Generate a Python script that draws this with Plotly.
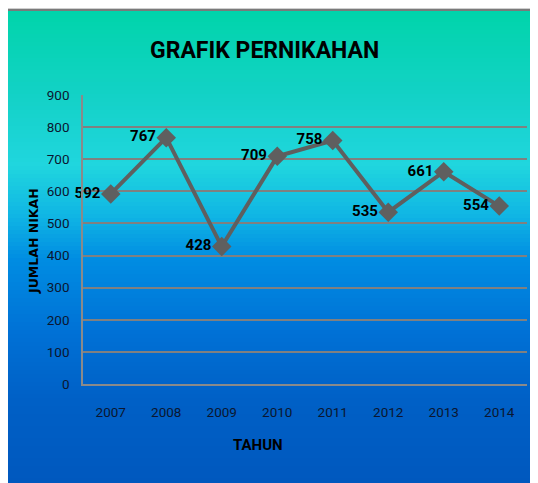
import plotly.graph_objects as go

years = ["2007", "2008", "2009", "2010", "2011", "2012", "2013", "2014"]
jumlah_nikah = [592, 767, 428, 709, 758, 535, 661, 554]
y_ticks = [0, 100, 200, 300, 400, 500, 600, 700, 800, 900]

OFF = 8  # page body margin
W, H = 538 - OFF, 483 - OFF
# plot area in screen px
SL, SR, ST, SB = 83, 527, 95, 384
L, R, T, B = SL - OFF, SR - OFF, ST - OFF, SB - OFF

def px_x(sx):
    return (sx - OFF - L) / (R - L)

def px_y(sy):
    return (B - (sy - OFF)) / (B - T)

# gradient stops (screen y, rgb)
stops = [
    (10, (0, 212, 170)),
    (100, (20, 210, 200)),
    (165, (32, 214, 222)),
    (215, (16, 182, 228)),
    (260, (0, 140, 226)),
    (330, (0, 114, 214)),
    (400, (0, 96, 198)),
    (483, (0, 88, 190)),
]

def color_at(sy):
    for (y0, c0), (y1, c1) in zip(stops[:-1], stops[1:]):
        if y0 <= sy <= y1:
            t = (sy - y0) / (y1 - y0)
            return tuple(round(a + (b - a) * t) for a, b in zip(c0, c1))
    return stops[-1][1]

shapes = []
step = 4
sy = 10
while sy < 483:
    c = color_at(sy + step / 2)
    shapes.append(dict(type="rect", xref="paper", yref="paper", layer="below",
                       x0=px_x(0), x1=px_x(545), y0=px_y(min(sy + step + 0.6, 490)), y1=px_y(sy),
                       line=dict(width=0), fillcolor="rgb(%d,%d,%d)" % c))
    sy += step
shapes.append(dict(type="line", xref="paper", yref="paper", layer="below",
                   x0=px_x(0), x1=px_x(545), y0=px_y(10), y1=px_y(10),
                   line=dict(width=2, color="#7a7a7a")))

NUM_FONT = "Roboto, Liberation Sans, Arial"

fig = go.Figure()
fig.add_trace(go.Scatter(
    x=years, y=jumlah_nikah, mode="lines+markers+text",
    line=dict(color="#5f5f5f", width=4),
    marker=dict(symbol="diamond", size=15, color="#5f5f5f"),
    text=["<b>%d</b>" % v for v in jumlah_nikah], textposition="middle left",
    textfont=dict(family=NUM_FONT, size=15, color="#000000"),
    cliponaxis=False, showlegend=False,
))

tick_font = dict(family=NUM_FONT, size=13.5, color="#0b1630")

annotations = [
    dict(text="<b>GRAFIK PERNIKAHAN</b>", xref="paper", yref="paper", x=px_x(264), y=px_y(50),
         xanchor="center", yanchor="middle", showarrow=False,
         font=dict(family=NUM_FONT, size=23, color="#000000")),
    dict(text="<b>TAHUN</b>", xref="paper", yref="paper", x=px_x(258), y=px_y(445),
         xanchor="center", yanchor="middle", showarrow=False,
         font=dict(family=NUM_FONT, size=15, color="#000000")),
    dict(text="<b>JUMLAH NIKAH</b>", xref="paper", yref="paper", x=px_x(33), y=px_y(241),
         xanchor="center", yanchor="middle", showarrow=False, textangle=-90,
         font=dict(family="DejaVu Sans", size=12.5, color="#000000")),
]

fig.update_layout(
    width=W, height=H,
    margin=dict(l=L, r=W - R, t=T, b=H - B, pad=0),
    paper_bgcolor="#cfcfcf",
    plot_bgcolor="rgba(0,0,0,0)",
    shapes=shapes,
    annotations=annotations,
    xaxis=dict(range=[-0.5, 7.5], showgrid=False, showline=True, linecolor="#8a8a8a", linewidth=1.5,
               ticks="", tickfont=tick_font, ticklabelstandoff=15, automargin=False),
    yaxis=dict(range=[0, 900], tickvals=y_ticks, showgrid=True, gridcolor="#808080", gridwidth=1.5,
               showline=True, linecolor="#8a8a8a", linewidth=1.5, zeroline=False,
               ticks="", tickfont=tick_font, ticklabelstandoff=9, automargin=False),
)

fig.write_html("out.html")
